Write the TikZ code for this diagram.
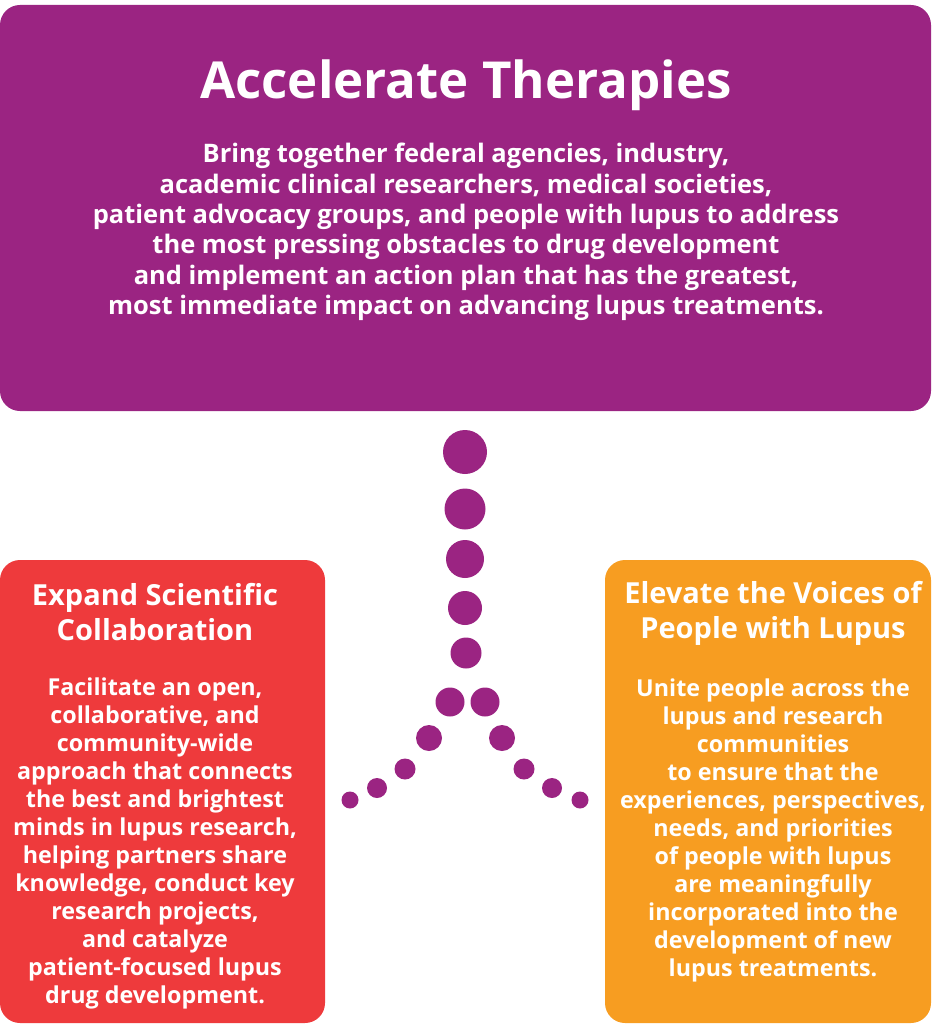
\documentclass[tikz,border=0pt]{standalone}
\usepackage{fontspec}
\setmainfont{Open Sans}
\definecolor{lpurple}{RGB}{155,36,130}
\definecolor{lred}{RGB}{238,58,60}
\definecolor{lorange}{RGB}{247,157,33}
\tikzset{
	box/.style={rectangle, rounded corners=20pt, inner sep=0pt},
	dot/.style={circle, fill=lpurple, inner sep=0pt},
	bighead/.style={text=white, align=center, font=\bfseries\fontsize{51}{58}\selectfont},
	head/.style={text=white, align=center, font=\bfseries\fontsize{29}{35}\selectfont},
	topbody/.style={text=white, align=center, font=\bfseries\fontsize{25.5}{30.4}\selectfont},
	body/.style={text=white, align=center, font=\bfseries\fontsize{23.3}{28}\selectfont}
}
\begin{document}
\begin{tikzpicture}[x=1pt,y=-1pt]
	\useasboundingbox (0,0) rectangle (931,1024);
	% boxes
	\node (AT) at (465.5, 208)	[box, fill=lpurple, minimum width=931pt, minimum height=406pt]	{};
	\node (ES) at (162.5, 791.5)	[box, fill=lred, minimum width=325pt, minimum height=463pt]	{};
	\node (EV) at (768, 791.5)	[box, fill=lorange, minimum width=326pt, minimum height=463pt]	{};
	% texts
	\node (ATh) at (466, 85)	[bighead]	{Accelerate Therapies};
	\node (ATt) at (466, 232)	[topbody]	{Bring together federal agencies, industry,\\
		academic clinical researchers, medical societies,\\
		patient advocacy groups, and people with lupus to address\\
		the most pressing obstacles to drug development\\
		and implement an action plan that has the greatest,\\
		most immediate impact on advancing lupus treatments.};
	\node (ESh) at (155, 612)	[head]	{Expand Scientific\\Collaboration};
	\node (ESt) at (155, 843)	[body]	{Facilitate an open,\\
		collaborative, and\\
		community-wide\\
		approach that connects\\
		the best and brightest\\
		minds in lupus research,\\
		helping partners share\\
		knowledge, conduct key\\
		research projects,\\
		and catalyze\\
		patient-focused lupus\\
		drug development.};
	\node (EVh) at (773, 613)	[head]	{Elevate the Voices of\\People with Lupus};
	\node (EVt) at (773, 830)	[body]	{Unite people across the\\
		lupus and research\\
		communities\\
		to ensure that the\\
		experiences, perspectives,\\
		needs, and priorities\\
		of people with lupus\\
		are meaningfully\\
		incorporated into the\\
		development of new\\
		lupus treatments.};
	% dots
	\node (D1) at (465, 452)	[dot, minimum size=44pt]	{};
	\node (D2) at (465, 509)	[dot, minimum size=41pt]	{};
	\node (D3) at (465, 559)	[dot, minimum size=38pt]	{};
	\node (D4) at (465, 608)	[dot, minimum size=34pt]	{};
	\node (D5) at (466, 653)	[dot, minimum size=31pt]	{};
	\node (L1) at (450, 702)	[dot, minimum size=29pt]	{};
	\node (R1) at (485, 702)	[dot, minimum size=29pt]	{};
	\node (L2) at (429, 738)	[dot, minimum size=26pt]	{};
	\node (R2) at (502, 738)	[dot, minimum size=26pt]	{};
	\node (L3) at (405, 769)	[dot, minimum size=21pt]	{};
	\node (R3) at (524, 769)	[dot, minimum size=21pt]	{};
	\node (L4) at (377, 788)	[dot, minimum size=20pt]	{};
	\node (R4) at (552, 788)	[dot, minimum size=20pt]	{};
	\node (L5) at (350, 800)	[dot, minimum size=17pt]	{};
	\node (R5) at (580, 800)	[dot, minimum size=17pt]	{};
\end{tikzpicture}
\end{document}
